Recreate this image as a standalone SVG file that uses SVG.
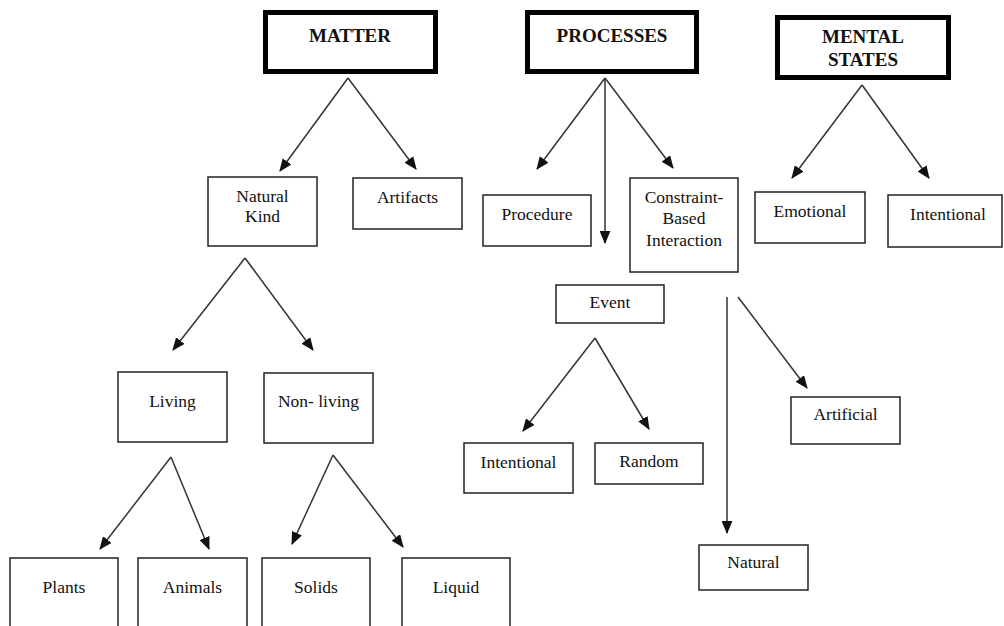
<svg xmlns="http://www.w3.org/2000/svg" width="1004" height="626" viewBox="0 0 1004 626">
  <style>
    .box { fill: #fff; stroke: #222; stroke-width: 1.5; }
    .root { fill: #fff; stroke: #000; stroke-width: 5; }
    .lbl { font-family: "Liberation Serif", "DejaVu Serif", "Times New Roman", serif; font-size: 17.5px; fill: #111; text-anchor: middle; }
    .head { font-family: "Liberation Serif", "DejaVu Serif", "Times New Roman", serif; font-size: 19px; font-weight: bold; fill: #111; text-anchor: middle; }
    .edge { stroke: #333; stroke-width: 1.5; fill: none; marker-end: url(#arr); }
  </style>
  <defs>
    <marker id="arr" viewBox="0 0 12 10" refX="11" refY="5" markerWidth="13" markerHeight="11" markerUnits="userSpaceOnUse" orient="auto">
      <path d="M0,0 L12,5 L0,10 z" fill="#111"/>
    </marker>
  </defs>
  <rect width="1004" height="626" fill="#fff"/>

  <!-- connectors -->
  <g id="connectors">
    <line class="edge" x1="348" y1="78" x2="280" y2="171"/>
    <line class="edge" x1="348" y1="78" x2="416" y2="169"/>
    <line class="edge" x1="605" y1="78" x2="537" y2="169"/>
    <line class="edge" x1="605" y1="78" x2="605" y2="243"/>
    <line class="edge" x1="605" y1="78" x2="673" y2="168"/>
    <line class="edge" x1="862" y1="85" x2="792" y2="178"/>
    <line class="edge" x1="862" y1="85" x2="929" y2="178"/>
    <line class="edge" x1="245" y1="258" x2="173" y2="350"/>
    <line class="edge" x1="245" y1="258" x2="313" y2="350"/>
    <line class="edge" x1="595" y1="338" x2="523" y2="431"/>
    <line class="edge" x1="595" y1="338" x2="649" y2="429"/>
    <line class="edge" x1="727" y1="297" x2="727" y2="533"/>
    <line class="edge" x1="738" y1="297" x2="807" y2="388"/>
    <line class="edge" x1="171" y1="457" x2="100" y2="549"/>
    <line class="edge" x1="171" y1="457" x2="209" y2="549"/>
    <line class="edge" x1="333" y1="455" x2="292" y2="544"/>
    <line class="edge" x1="333" y1="455" x2="403" y2="547"/>
  </g>

  <!-- top-level categories -->
  <g id="matter">
    <rect class="root" x="265.5" y="12.5" width="170" height="59"/>
    <text class="head" x="350" y="42">MATTER</text>
  </g>
  <g id="processes">
    <rect class="root" x="527.5" y="12.5" width="169" height="59"/>
    <text class="head" x="612" y="42">PROCESSES</text>
  </g>
  <g id="mental-states">
    <rect class="root" x="777.5" y="17.5" width="171" height="60"/>
    <text class="head" x="863" y="43">MENTAL</text>
    <text class="head" x="863" y="66">STATES</text>
  </g>

  <!-- matter branch -->
  <g id="natural-kind">
    <rect class="box" x="208" y="177" width="109" height="69"/>
    <text class="lbl" x="262.5" y="202">Natural</text>
    <text class="lbl" x="262.5" y="222">Kind</text>
  </g>
  <g id="artifacts">
    <rect class="box" x="353" y="178" width="109" height="51"/>
    <text class="lbl" x="407.5" y="203">Artifacts</text>
  </g>
  <g id="living">
    <rect class="box" x="118" y="372" width="109" height="70"/>
    <text class="lbl" x="172.5" y="407">Living</text>
  </g>
  <g id="non-living">
    <rect class="box" x="264" y="373" width="109" height="70"/>
    <text class="lbl" x="318.5" y="407">Non- living</text>
  </g>
  <g id="plants">
    <rect class="box" x="10" y="558" width="108" height="90"/>
    <text class="lbl" x="64" y="593">Plants</text>
  </g>
  <g id="animals">
    <rect class="box" x="138" y="558" width="109" height="90"/>
    <text class="lbl" x="192.5" y="593">Animals</text>
  </g>
  <g id="solids">
    <rect class="box" x="262" y="558" width="108" height="90"/>
    <text class="lbl" x="316" y="593">Solids</text>
  </g>
  <g id="liquid">
    <rect class="box" x="402" y="558" width="108" height="90"/>
    <text class="lbl" x="456" y="593">Liquid</text>
  </g>

  <!-- processes branch -->
  <g id="procedure">
    <rect class="box" x="483" y="195" width="108" height="51"/>
    <text class="lbl" x="537" y="220">Procedure</text>
  </g>
  <g id="constraint-based">
    <rect class="box" x="630" y="178" width="108" height="94"/>
    <text class="lbl" x="684" y="203">Constraint-</text>
    <text class="lbl" x="684" y="224">Based</text>
    <text class="lbl" x="684" y="246">Interaction</text>
  </g>
  <g id="event">
    <rect class="box" x="556" y="285" width="108" height="38"/>
    <text class="lbl" x="610" y="308">Event</text>
  </g>
  <g id="event-intentional">
    <rect class="box" x="464" y="443" width="109" height="50"/>
    <text class="lbl" x="518.5" y="468">Intentional</text>
  </g>
  <g id="random">
    <rect class="box" x="595" y="443" width="108" height="41"/>
    <text class="lbl" x="649" y="467">Random</text>
  </g>
  <g id="artificial">
    <rect class="box" x="791" y="397" width="109" height="47"/>
    <text class="lbl" x="845.5" y="420">Artificial</text>
  </g>
  <g id="natural">
    <rect class="box" x="699" y="545" width="109" height="45"/>
    <text class="lbl" x="753.5" y="568">Natural</text>
  </g>

  <!-- mental states branch -->
  <g id="emotional">
    <rect class="box" x="755" y="192" width="110" height="51"/>
    <text class="lbl" x="810" y="217">Emotional</text>
  </g>
  <g id="mental-intentional">
    <rect class="box" x="888" y="195" width="114" height="52"/>
    <text class="lbl" x="948" y="220">Intentional</text>
  </g>
</svg>
